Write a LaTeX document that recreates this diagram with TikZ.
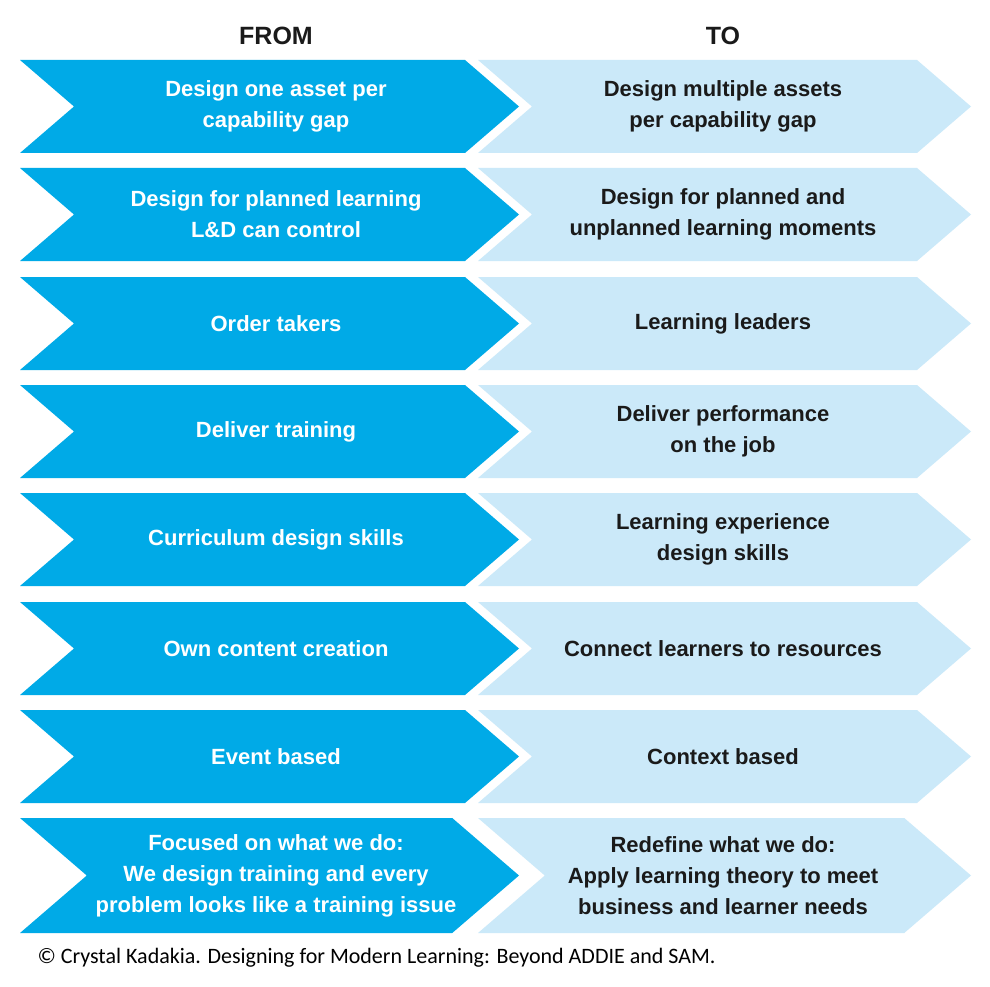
\documentclass[tikz,border=0pt]{standalone}
\usepackage{fontspec}
\setmainfont{Liberation Sans}
\newfontfamily\footfont{Carlito}
\definecolor{darkb}{HTML}{00AAE7}
\definecolor{lightb}{HTML}{CBE9F9}
\definecolor{txtd}{HTML}{1A1A1A}
\begin{document}
\begin{tikzpicture}[x=1pt,y=-1pt,
  dtxt/.style={text=white,font=\bfseries\fontsize{22}{31}\selectfont,align=center},
  ltxt/.style={text=txtd,font=\bfseries\fontsize{22}{31}\selectfont,align=center},
  head/.style={text=txtd,font=\bfseries\fontsize{25}{30}\selectfont}]
\useasboundingbox (0,0) rectangle (990,987);
\fill[white] (0,0) rectangle (990,987);
\node[head] (from) at (276,36) {FROM};
\node[head] (to) at (723,36) {TO};
\newcommand\chevrow[5]{% top, bottom, name, dark text, light text
  \pgfmathsetmacro\mm{(#1+#2)/2}
  \pgfmathsetmacro\dd{(#2-#1)/2*54/46.5}
  \fill[darkb] (20,#1) -- (519-\dd,#1) -- (519,\mm) -- (519-\dd,#2) -- (20,#2) -- (20+\dd,\mm) -- cycle;
  \fill[lightb] (478,#1) -- (971-\dd,#1) -- (971,\mm) -- (971-\dd,#2) -- (478,#2) -- (478+\dd,\mm) -- cycle;
  \node[dtxt] (#3a) at (276,\mm) {#4};
  \node[ltxt] (#3b) at (723,\mm) {#5};
}
\chevrow{60}{153}{r1}{Design one asset per\\capability gap}{Design multiple assets\\per capability gap}
\chevrow{168}{261}{r2}{Design for planned learning\\L\&D can control}{Design for planned and\\unplanned learning moments}
\chevrow{277}{370}{r3}{Order takers}{Learning leaders}
\chevrow{385}{478}{r4}{Deliver training}{Deliver performance\\on the job}
\chevrow{493}{586}{r5}{Curriculum design skills}{Learning experience\\design skills}
\chevrow{602}{695}{r6}{Own content creation}{Connect learners to resources}
\chevrow{710}{803}{r7}{Event based}{Context based}
\chevrow{818}{933}{r8}{Focused on what we do:\\We design training and every\\problem looks like a training issue}{Redefine what we do:\\Apply learning theory to meet\\business and learner needs}
\node[anchor=west,text=black,font=\footfont\fontsize{22}{26}\selectfont] (foot) at (34,958) {© Crystal Kadakia. Designing for Modern Learning: Beyond ADDIE and SAM.};
\end{tikzpicture}
\end{document}
